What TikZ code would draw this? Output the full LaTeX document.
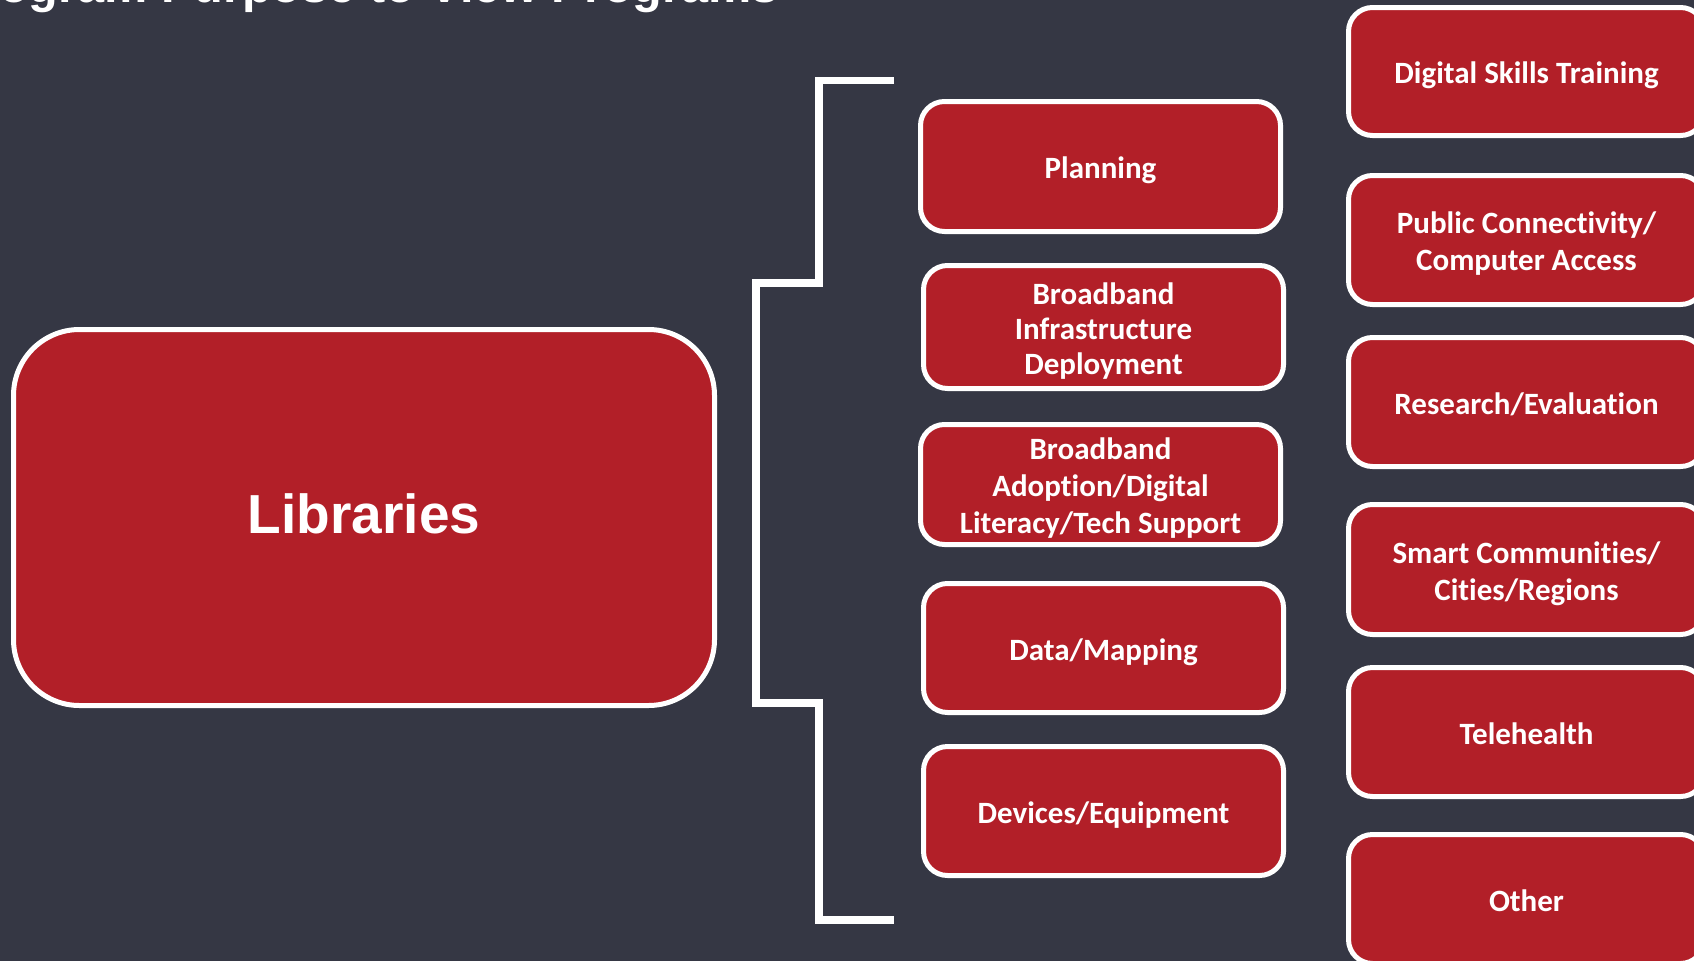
\documentclass[tikz,border=0pt]{standalone}
\usepackage{fontspec}
\setmainfont{Carlito}[Ligatures=NoCommon]
\newfontfamily\arialfont{Liberation Sans}
\definecolor{bgc}{RGB}{53,55,68}
\definecolor{redc}{RGB}{178,31,40}
\newcommand\btxt[1]{\raisebox{-5pt}[\height][\depth]{\begin{tabular}{@{}c@{}}#1\end{tabular}}}
\tikzset{
  box/.style={draw=white, line width=5pt, fill=redc, rounded corners=24pt,
    text=white, font=\bfseries\fontsize{31}{37}\selectfont, align=center,
    inner sep=0pt, minimum width=360pt, minimum height=129pt},
  rbox/.style={box, minimum width=356pt},
  bigbox/.style={draw=white, line width=5pt, fill=redc, rounded corners=66pt,
    text=white, font=\arialfont\bfseries\fontsize{55}{60}\selectfont,
    inner sep=0pt, minimum width=701pt, minimum height=376pt},
  brace/.style={draw=white, line width=7.5pt, line join=miter}
}
\begin{document}
\begin{tikzpicture}[x=1pt,y=-1pt]
\useasboundingbox (0,0) rectangle (1694,961);
\clip (0,0) rectangle (1694,961);
\fill[bgc] (0,0) rectangle (1694,961);
% title (cut off at top, as in the reference)
\node[anchor=base east, inner sep=0pt, text=white, font=\arialfont\bfseries\fontsize{48.6}{52}\selectfont] (title) at (779,2) {ogram Purpose to View Programs};
% main box
\node[bigbox] (lib) at (364,517.5) {\raisebox{8pt}{Libraries}};
% brace
\coordinate (bt) at (894,80.5);
\coordinate (bb) at (894,920);
\draw[brace] (bt) -- (819,80.5) -- (819,283) -- (756,283) -- (756,703) -- (819,703) -- (819,920) -- (bb);
% middle column
\node[box, minimum height=130pt] (plan) at (1100.5,166.5) {\btxt{Planning}};
\node[box, minimum height=123pt, font=\bfseries\fontsize{31}{35}\selectfont] (infra) at (1103.5,327) {\btxt{Broadband\\Infrastructure\\Deployment}};
\node[box, minimum height=120pt] (adopt) at (1100.5,484.5) {\btxt{Broadband\\Adoption/Digital\\Literacy/Tech Support}};
\node[box] (data) at (1103.5,648) {\btxt{Data/Mapping}};
\node[box] (dev) at (1103.5,811) {\btxt{Devices/Equipment}};
% right column
\node[rbox, minimum height=128pt] (skills) at (1526.5,71.5) {\btxt{Digital Skills Training}};
\node[rbox] (pub) at (1526.5,240) {\btxt{Public Connectivity/\\Computer Access}};
\node[rbox] (res) at (1526.5,402) {\btxt{Research/Evaluation}};
\node[rbox, minimum height=130pt] (smart) at (1526.5,569.5) {\btxt{Smart Communities/\\Cities/Regions}};
\node[rbox] (tele) at (1526.5,732) {\btxt{Telehealth}};
\node[rbox] (other) at (1526.5,899) {\btxt{Other}};
\end{tikzpicture}
\end{document}
